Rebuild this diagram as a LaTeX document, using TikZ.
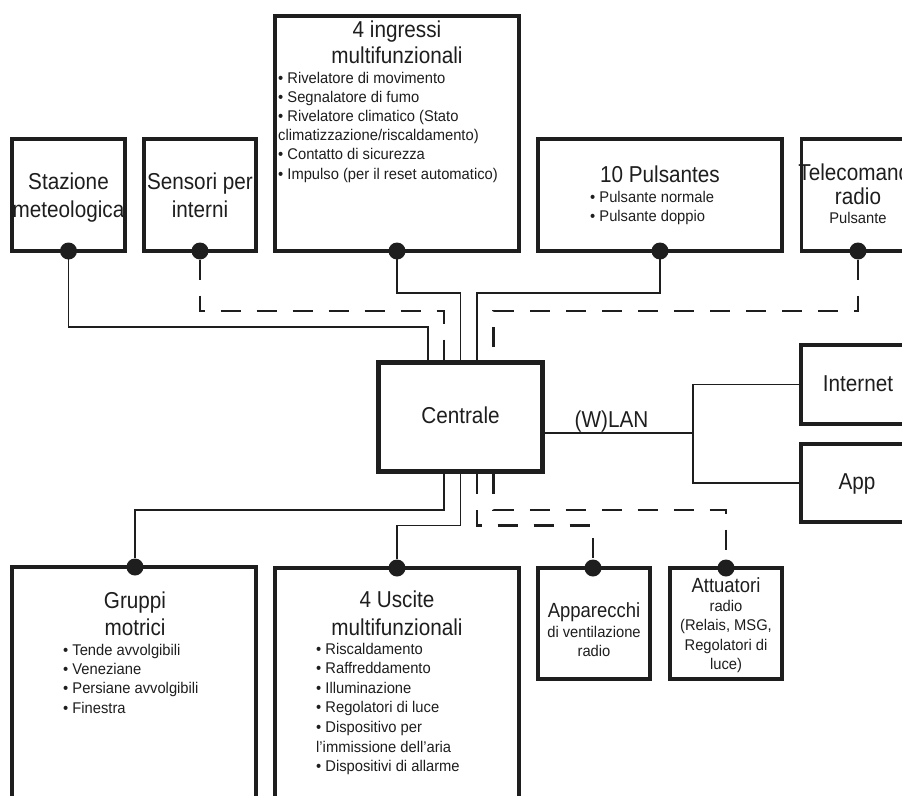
\documentclass[tikz,border=0pt]{standalone}
\usepackage{fontspec}
\newfontfamily\titlefont[FakeStretch=0.9]{Liberation Sans}
\newfontfamily\bodyfont[FakeStretch=0.95]{Liberation Sans}
\usetikzlibrary{calc}
\definecolor{ink}{HTML}{1E1E1E}
\newcommand\mkbox[6]{\node[#6, minimum width={(#4-#2)*1pt}, minimum height={(#5-#3)*1pt}] (#1) at ({(#2+#4)/2},{(#3+#5)/2}) {};}
\begin{document}
\begin{tikzpicture}[x=1pt,y=-1pt,
  box/.style={draw=ink, line width=3.5pt, inner sep=0pt},
  cbox/.style={box, line width=5pt},
  conn/.style={draw=ink, line width=1.8pt},
  wconn/.style={draw=ink, line width=2.2pt, dash pattern=on 20pt off 16pt},
  dot/.style={circle, fill=ink, minimum size=17pt, inner sep=0pt},
  ttl/.style={font=\titlefont\fontsize{23}{27}\selectfont, text=ink, inner sep=0pt, anchor=base},
  sttl/.style={ttl, font=\titlefont\fontsize{20.5}{25}\selectfont},
  bdy/.style={font=\bodyfont\fontsize{15.5}{19}\selectfont, text=ink, inner sep=0pt, anchor=base west},
  bdyc/.style={bdy, anchor=base},
]
\useasboundingbox (0,0) rectangle (902,795);
\fill[white] (0,0) rectangle (902,795);
\clip (0,0) rectangle (902,795);

% boxes
\mkbox{stazione}{12}{139}{125}{251}{box}
\mkbox{sensori}{144}{139}{256}{251}{box}
\mkbox{ingressi}{275}{16}{519}{251}{box}
\mkbox{pulsantes}{538}{139}{782}{251}{box}
\mkbox{telecom}{801.5}{139}{916}{251}{box}
\mkbox{centrale}{378.5}{362.5}{542.5}{471.5}{cbox}
\mkbox{internet}{801}{345}{930}{424}{box}
\mkbox{app}{801}{444}{930}{522}{box}
\mkbox{gruppi}{12}{567}{256}{830}{box}
\mkbox{uscite}{275}{568}{519}{830}{box}
\mkbox{apparecchi}{538}{568}{650}{679}{box}
\mkbox{attuatori}{670}{568}{782}{679}{box}

% dots
\node[dot] (dS) at (68.5,251) {};
\node[dot] (dSe) at (200,251) {};
\node[dot] (dI) at (397,251) {};
\node[dot] (dP) at (660,251) {};
\node[dot] (dT) at (858,251) {};
\node[dot] (dG) at (135,567) {};
\node[dot] (dU) at (397,568) {};
\node[dot] (dA) at (593,568) {};
\node[dot] (dR) at (726,568) {};

% ports on the Centrale
\coordinate (ct1) at ($(centrale.north)+(-32.5,0)$);
\coordinate (ct2) at ($(centrale.north)+(-16.5,0)$);
\coordinate (ct3) at (centrale.north);
\coordinate (ct4) at ($(centrale.north)+(16.5,0)$);
\coordinate (ct5) at ($(centrale.north)+(33,0)$);
\coordinate (cb1) at ($(centrale.south)+(-16.5,0)$);
\coordinate (cb2) at (centrale.south);
\coordinate (cb3) at ($(centrale.south)+(16.5,0)$);
\coordinate (cb4) at ($(centrale.south)+(33,0)$);

% connectors top
\draw[conn] (dS.center) ++(0,8) -- ++(0,68) -| (ct1);
\draw[wconn] (dSe.center) ++(0,8.5) -- ++(0,51.5) -| (ct2);
\draw[conn] (dI.center) ++(0,8) -- ++(0,34) -| (ct3);
\draw[conn] (dP.center) ++(0,8) -- ++(0,34) -| (ct4);
\draw[wconn] (dT.center) ++(0,8.5) -- ++(0,51.5) -| (ct5);
% connectors bottom
\draw[conn] (cb1) -- ++(0,36) -| (dG);
\draw[conn] (cb2) -- ++(0,51.5) -| (dU);
\draw[wconn] (cb3) -- ++(0,51.5) -| (dA);
\draw[wconn] (cb4) -- ++(0,36) -| (dR);
% network
\coordinate (wj) at (693,433);
\draw[conn] (centrale.east |- wj) -- (wj);
\draw[conn] (internet.west) -| (wj) |- (app.west);
\node[ttl] (wlan) at (611.5,427) {(W)LAN};

% texts
\node[ttl] (t1a) at (68.5,189) {Stazione};
\node[ttl] (t1b) at (68.5,217) {meteologica};
\node[ttl] (t2a) at (200,189) {Sensori per};
\node[ttl] (t2b) at (200,217) {interni};

\node[ttl] (t3a) at (397,37) {4 ingressi};
\node[ttl] (t3b) at (397,63) {multifunzionali};
\foreach \t [count=\i] in {{• Rivelatore di movimento},{• Segnalatore di fumo},{• Rivelatore climatico (Stato},{climatizzazione/riscaldamento)},{• Contatto di sicurezza},{• Impulso (per il reset automatico)}}
  \node[bdy] (ing\i) at (278,{83+19.2*(\i-1)}) {\t};

\node[ttl] (t4a) at (660,182) {10 Pulsantes};
\node[bdy] (t4b) at (590,202) {• Pulsante normale};
\node[bdy] (t4c) at (590,221) {• Pulsante doppio};

\node[ttl] (t5a) at (860,180) {Telecomando};
\node[ttl] (t5b) at (858,204) {radio};
\node[bdyc] (t5c) at (858,223) {Pulsante};

\node[ttl] (t6) at (460.5,423) {Centrale};
\node[ttl] (t7) at (858,391) {Internet};
\node[ttl] (t8) at (857,489) {App};

\node[ttl] (t9a) at (135,608) {Gruppi};
\node[ttl] (t9b) at (135,635) {motrici};
\foreach \t [count=\i] in {{• Tende avvolgibili},{• Veneziane},{• Persiane avvolgibili},{• Finestra}}
  \node[bdy] (gr\i) at (63,{655+19.4*(\i-1)}) {\t};

\node[ttl] (t10a) at (397,607) {4 Uscite};
\node[ttl] (t10b) at (397,635) {multifunzionali};
\foreach \t [count=\i] in {{• Riscaldamento},{• Raffreddamento},{• Illuminazione},{• Regolatori di luce},{• Dispositivo per},{l’immissione dell’aria},{• Dispositivi di allarme}}
  \node[bdy] (us\i) at (316,{654+19.6*(\i-1)}) {\t};

\node[sttl] (t11a) at (594,617) {Apparecchi};
\node[bdyc] (t11b) at (594,637) {di ventilazione};
\node[bdyc] (t11c) at (594,656) {radio};

\node[sttl] (t12a) at (726,592) {Attuatori};
\foreach \t [count=\i] in {{radio},{(Relais, MSG,},{Regolatori di},{luce)}}
  \node[bdyc] (at\i) at (726,{611+19.6*(\i-1)}) {\t};
\end{tikzpicture}
\end{document}
